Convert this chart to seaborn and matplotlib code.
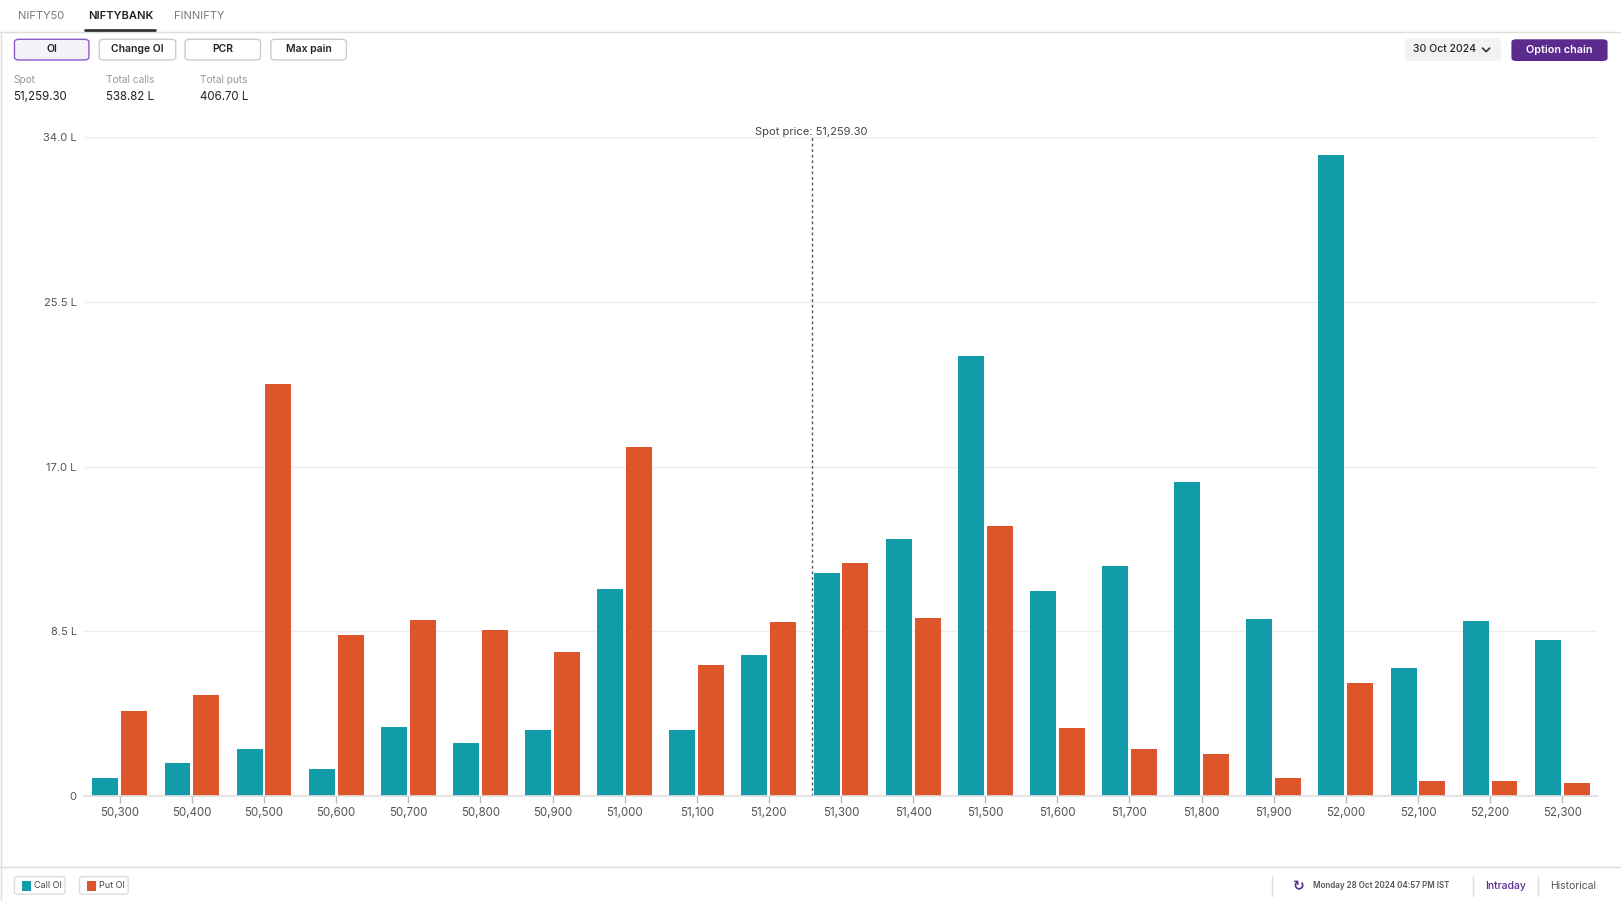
import matplotlib
matplotlib.use("Agg")
import matplotlib.pyplot as plt
import matplotlib.patches as mpatches
from matplotlib.lines import Line2D
import seaborn as sns
import pandas as pd

# ---------------- data ----------------
strikes = [50300, 50400, 50500, 50600, 50700, 50800, 50900, 51000, 51100, 51200,
           51300, 51400, 51500, 51600, 51700, 51800, 51900, 52000, 52100, 52200, 52300]
call_oi = [0.91, 1.71, 2.45, 1.39, 3.58, 2.72, 3.42, 10.67, 3.42, 7.26,
           11.53, 13.29, 22.73, 10.57, 11.90, 16.22, 9.12, 33.08, 6.62, 9.02, 8.06]
put_oi = [4.38, 5.23, 21.29, 8.32, 9.07, 8.59, 7.42, 18.04, 6.78, 8.96,
          12.01, 9.18, 13.93, 3.52, 2.45, 2.19, 0.91, 5.82, 0.80, 0.80, 0.69]
y_ticks = [0, 8.5, 17.0, 25.5, 34.0]
spot = 51259.30
total_calls = "538.82 L"
total_puts = "406.70 L"
tabs = ["NIFTY50", "NIFTYBANK", "FINNIFTY"]
buttons = ["OI", "Change OI", "PCR", "Max pain"]
expiry = "30 Oct 2024"
timestamp = "Monday 28 Oct 2024 04:57 PM IST"

CALL = "#129BA8"
PUT = "#DE552C"
PURPLE = "#5B2B8E"
GRID = "#EDEDED"
TXT = "#555555"

labels = [f"{s:,}" for s in strikes]
df = pd.DataFrame({
    "strike": labels * 2,
    "oi": call_oi + put_oi,
    "type": ["Call OI"] * len(strikes) + ["Put OI"] * len(strikes),
})

sns.set_theme(style="white")
plt.rcParams["font.family"] = ["Inter", "DejaVu Sans"]

W, H = 1621, 901
S = W / 1568.0
fig = plt.figure(figsize=(W / 100, H / 100), dpi=100)
fig.patch.set_facecolor("white")


def fx(x):
    return x * S / W


def fy(y):
    return 1 - y * S / H


# axes (positions measured in shrunk reference pixels)
ax_l, ax_r, ax_t, ax_b = 81, 1546, 133, 770
ax = fig.add_axes([fx(ax_l), fy(ax_b), fx(ax_r) - fx(ax_l), fy(ax_t) - fy(ax_b)])

sns.barplot(data=df, x="strike", y="oi", hue="type", order=labels,
            palette={"Call OI": CALL, "Put OI": PUT}, width=0.8, gap=0.1,
            legend=False, ax=ax, saturation=1, edgecolor="none")

ax.set_ylim(0, 34)
ax.set_xlim(-0.5, len(strikes) - 0.5)
ax.set_yticks(y_ticks)
ax.set_yticklabels(["0"] + [f"{v:.1f} L" for v in y_ticks[1:]])
ax.set_xlabel("")
ax.set_ylabel("")
ax.grid(axis="y", color=GRID, linewidth=1)
ax.set_axisbelow(True)
for sp in ["top", "right", "left"]:
    ax.spines[sp].set_visible(False)
ax.spines["bottom"].set_color("#E0E0E0")
ax.tick_params(axis="x", colors="#BBBBBB", length=5, width=1, labelcolor=TXT,
               labelsize=8.3, pad=3, bottom=True)
ax.tick_params(axis="y", colors=TXT, length=0, labelsize=8.0, pad=5)
ax.set_facecolor("white")

# spot line
spot_pos = (spot - strikes[0]) / (strikes[1] - strikes[0])
ax.axvline(spot_pos, ymin=0, ymax=1, color="#555555", linestyle=(0, (2, 2)), linewidth=1)
ax.text(spot_pos, 34.0, f"Spot price: {spot:,.2f}", ha="center", va="bottom",
        fontsize=8.0, color="#444444")

# ---------------- header ----------------
fig.add_artist(Line2D([0, 1], [fy(30.5), fy(30.5)], color="#DDDDDD", lw=1))
tab_x = [17, 85, 168]
for i, (t, x) in enumerate(zip(tabs, tab_x)):
    fig.text(fx(x), fy(15), t, fontsize=8.0, va="center", ha="left",
             color="#222222" if i == 1 else "#777777",
             fontweight="semibold" if i == 1 else "normal")
fig.add_artist(Line2D([fx(82), fx(150)], [fy(29.5), fy(29.5)], color="#333333", lw=2))

btn_x = [(14, 86), (96, 170), (179, 252), (262, 335)]
for i, (b, (x0, x1)) in enumerate(zip(buttons, btn_x)):
    sel = i == 0
    fig.add_artist(mpatches.FancyBboxPatch(
        (fx(x0), fy(58)), fx(x1) - fx(x0), fy(38) - fy(58),
        boxstyle="round,pad=0,rounding_size=0.003", transform=fig.transFigure,
        facecolor="#F5F2FA" if sel else "white",
        edgecolor="#8A5CC7" if sel else "#CCCCCC", lw=1))
    fig.text(fx((x0 + x1) / 2), fy(47.5), b, fontsize=7.5, ha="center", va="center",
             color="#222222", fontweight="semibold")

# date selector
fig.add_artist(mpatches.FancyBboxPatch(
    (fx(1359), fy(59)), fx(1452) - fx(1359), fy(37) - fy(59),
    boxstyle="round,pad=0,rounding_size=0.003", transform=fig.transFigure,
    facecolor="#F2F2F2", edgecolor="none"))
fig.text(fx(1367), fy(47.5), expiry, fontsize=7.5, ha="left", va="center",
         color="#222222", fontweight="medium")
fig.add_artist(Line2D([fx(1434), fx(1437.5), fx(1441)], [fy(46.5), fy(50), fy(46.5)],
                      color="#333333", lw=1.2, solid_capstyle="round"))
# option chain button
fig.add_artist(mpatches.FancyBboxPatch(
    (fx(1462), fy(59)), fx(1555) - fx(1462), fy(38) - fy(59),
    boxstyle="round,pad=0,rounding_size=0.003", transform=fig.transFigure,
    facecolor=PURPLE, edgecolor="none"))
fig.text(fx(1508.5), fy(48.5), "Option chain", fontsize=7.8, ha="center", va="center",
         color="white", fontweight="semibold")

# stats
stats = [("Spot", f"{spot:,.2f}", 13), ("Total calls", total_calls, 103),
         ("Total puts", total_puts, 193)]
for lab, val, x in stats:
    fig.text(fx(x), fy(77.5), lab, fontsize=7.3, color="#999999", ha="left", va="center")
    fig.text(fx(x), fy(94), val, fontsize=8.3, color="#222222", ha="left", va="center")

# ---------------- footer ----------------
fig.add_artist(Line2D([0, 1], [fy(838.5), fy(838.5)], color="#DDDDDD", lw=1))
leg = [("Call OI", CALL, 14, 63), ("Put OI", PUT, 77, 124)]
for lab, col, x0, x1 in leg:
    fig.add_artist(mpatches.FancyBboxPatch(
        (fx(x0), fy(865)), fx(x1) - fx(x0), fy(848) - fy(865),
        boxstyle="round,pad=0,rounding_size=0.002", transform=fig.transFigure,
        facecolor="white", edgecolor="#DDDDDD", lw=1))
    fig.add_artist(mpatches.Rectangle(
        (fx(x0 + 7), fy(861.5)), fx(9), fy(852) - fy(861.5),
        transform=fig.transFigure, facecolor=col, edgecolor="none"))
    fig.text(fx(x0 + 19), fy(856.5), lab, fontsize=6.5, color="#444444",
             ha="left", va="center")

for xd in [1230, 1425, 1488]:
    fig.add_artist(Line2D([fx(xd), fx(xd)], [fy(847), fy(867)], color="#DDDDDD", lw=1))
fig.text(fx(1256), fy(857), "\u21bb", fontsize=10, color=PURPLE, ha="center",
         va="center", family=["DejaVu Sans"], fontweight="bold")
fig.text(fx(1270), fy(856.5), timestamp, fontsize=5.8, color="#555555",
         ha="left", va="center", fontweight="semibold")
fig.text(fx(1456), fy(857), "Intraday", fontsize=7.5, color=PURPLE,
         ha="center", va="center", fontweight="medium")
fig.text(fx(1522), fy(857), "Historical", fontsize=7.5, color="#555555",
         ha="center", va="center")

# left border
fig.add_artist(Line2D([fx(1), fx(1)], [0, fy(30.5)], color="#DDDDDD", lw=1))

fig.savefig("out.png", dpi=100, facecolor="white")
